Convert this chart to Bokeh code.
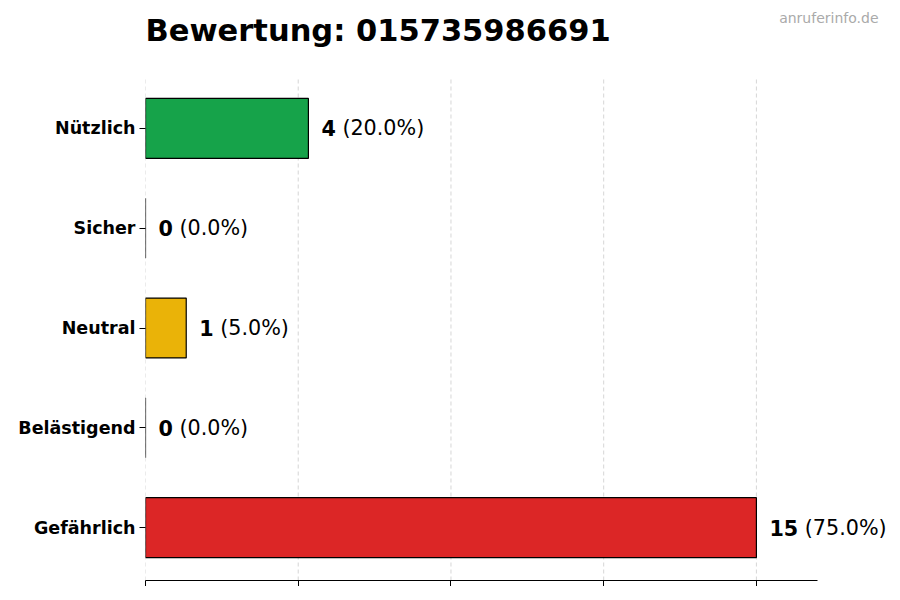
from bokeh.plotting import figure
from bokeh.models import ColumnDataSource, FixedTicker, LabelSet, Label, Range1d
from bokeh.core.properties import value
from bokeh.embed import file_html
from bokeh.resources import INLINE

# ---- data ----
categories = ["Nützlich", "Sicher", "Neutral", "Belästigend", "Gefährlich"]
counts = [4, 0, 1, 0, 15]
colors = ["#16a34a", "#6b7280", "#eab308", "#f97316", "#dc2626"]
title_text = "Bewertung: 015735986691"
watermark_text = "anruferinfo.de"
x_ticks = [0, 3.75, 7.5, 11.25, 15]
x_axis_end = 16.5

# ---- derived ----
n = len(categories)
ypos = [n - 1 - i for i in range(n)]
total = sum(counts)
pct_text = [f"({c / total * 100:.1f}%)" for c in counts]
count_text = [str(c) for c in counts]

FS = 20.7
pct_off = [13 + len(s) * 0.696 * FS + 0.318 * FS for s in count_text]

src = ColumnDataSource(dict(y=ypos, count=counts, color=colors, cnt=count_text,
                            pct=pct_text, pct_off=pct_off))

LEFT = 145
FRAME_W = 747
FRAME_H = 580
px_per_x = 672 / x_axis_end
y_bottom, y_grid_top = -0.53, 4.52
px_per_y = 504 / (y_grid_top - y_bottom)
y_top = y_grid_top + 76 / px_per_y

p = figure(frame_width=FRAME_W, frame_height=FRAME_H,
           x_range=Range1d(0, FRAME_W / px_per_x), y_range=Range1d(y_bottom, y_top),
           output_backend="svg", toolbar_location=None,
           min_border_left=LEFT, min_border_right=0, min_border_top=0, min_border_bottom=4)

# grid lines (limited to the bar area)
p.segment(x0=x_ticks, y0=[y_bottom] * len(x_ticks), x1=x_ticks, y1=[y_grid_top] * len(x_ticks),
          line_color="#cccccc", line_dash="4 3", line_width=1, line_alpha=0.8)

p.hbar(y="y", left=0, right="count", height=0.6, fill_color="color",
       line_color="black", line_width=1.2, source=src)

p.add_layout(LabelSet(x="count", y="y", text="cnt", x_offset=13, source=src,
                      text_font=value("DejaVu Sans"), text_font_style="bold",
                      text_font_size=value(f"{FS}px"), text_baseline="middle", text_color="black"))
p.add_layout(LabelSet(x="count", y="y", text="pct", x_offset="pct_off", source=src,
                      text_font=value("DejaVu Sans"), text_font_style="normal",
                      text_font_size=value(f"{FS}px"), text_baseline="middle", text_color="black"))

# title and watermark
p.add_layout(Label(x=0, y=FRAME_H - 30, x_units="screen", y_units="screen", text=title_text,
                   text_font="DejaVu Sans", text_font_size="30.5px", text_font_style="bold",
                   text_color="black", text_align="left", text_baseline="alphabetic"))
p.add_layout(Label(x=878 - LEFT, y=FRAME_H - 17, x_units="screen", y_units="screen",
                   text=watermark_text, text_font="DejaVu Sans", text_font_size="14px",
                   text_color="#aaaaaa", text_align="right", text_baseline="middle"))

# axes
p.xaxis.ticker = FixedTicker(ticks=x_ticks)
p.xaxis.bounds = (0, x_axis_end)
p.xaxis.major_label_overrides = {t: "" for t in x_ticks}
p.xaxis.major_label_text_font_size = "8px"
p.xaxis.minor_tick_line_color = None
p.xaxis.major_tick_in = 0
p.xaxis.major_tick_out = 6
p.xaxis.axis_line_color = "black"
p.xaxis.major_tick_line_color = "black"

p.yaxis.ticker = FixedTicker(ticks=ypos)
p.yaxis.major_label_overrides = {y: c for y, c in zip(ypos, categories)}
p.yaxis.axis_line_color = None
p.yaxis.minor_tick_line_color = None
p.yaxis.major_tick_in = 0
p.yaxis.major_tick_out = 6
p.yaxis.major_label_standoff = 4
p.yaxis.major_label_text_font = "DejaVu Sans"
p.yaxis.major_label_text_font_style = "bold"
p.yaxis.major_label_text_font_size = "17.5px"
p.yaxis.major_label_text_color = "black"

p.xgrid.grid_line_color = None
p.ygrid.grid_line_color = None
p.outline_line_color = None
p.background_fill_color = "white"
p.border_fill_color = "white"

open("out.html", "w").write(file_html(p, INLINE))
